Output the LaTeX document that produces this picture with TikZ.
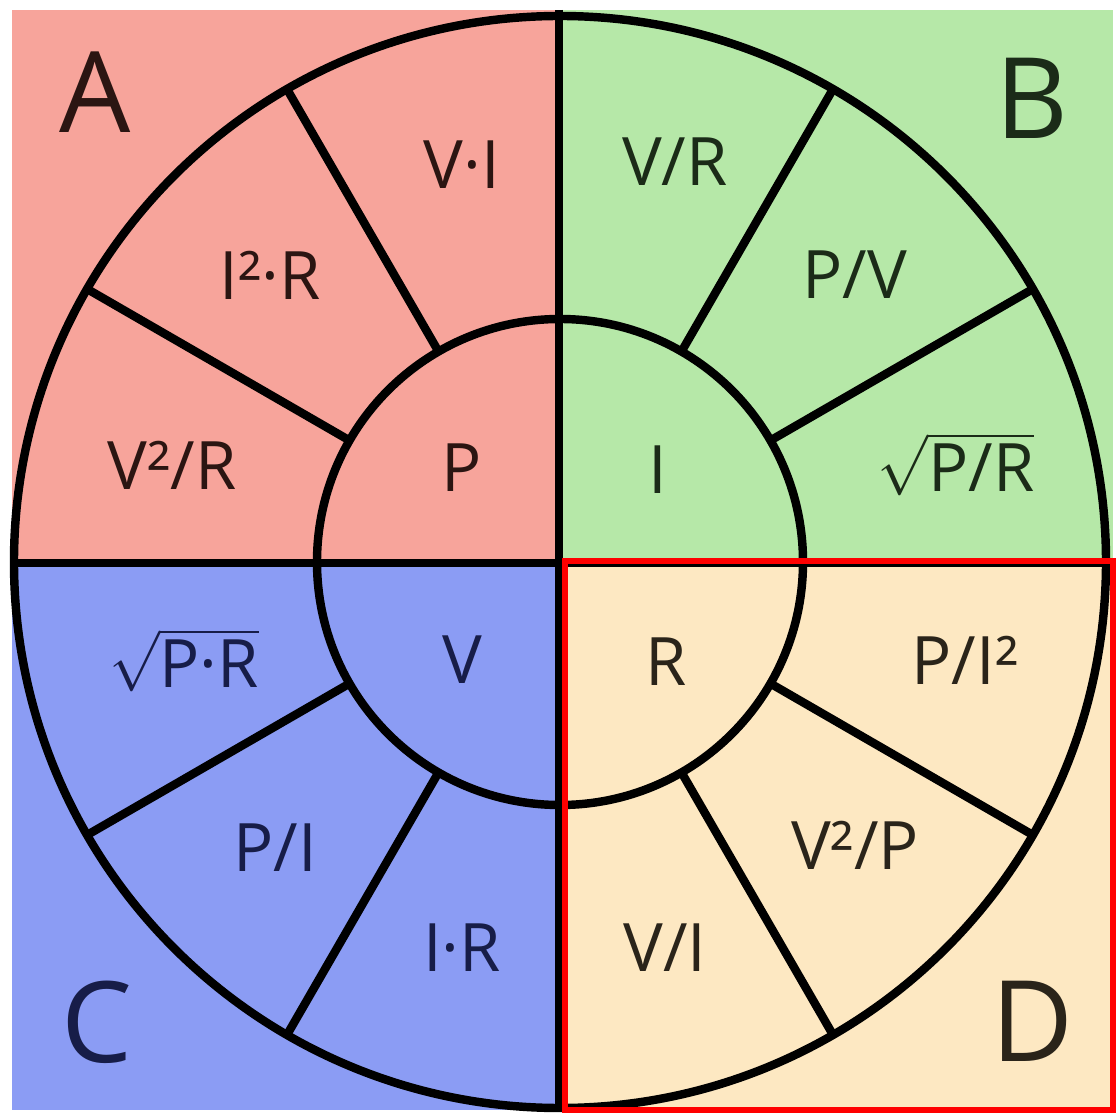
\documentclass[tikz,border=0pt]{standalone}
\usepackage{fontspec}
\setmainfont{Open Sans}
\definecolor{qA}{HTML}{F7A49B}
\definecolor{qB}{HTML}{B6E8A8}
\definecolor{qC}{HTML}{8B9CF4}
\definecolor{qD}{HTML}{FDE8C2}
\definecolor{tA}{HTML}{2B1512}
\definecolor{tB}{HTML}{1B2B18}
\definecolor{tC}{HTML}{171D48}
\definecolor{tD}{HTML}{2A241A}
\definecolor{hiRed}{HTML}{FF0000}

\begin{document}
\begin{tikzpicture}[x=0.01cm,y=0.01cm]
\tikzset{rim/.style={black,line width=2.4pt},
  lbl/.style={inner sep=0pt,font=\fontsize{19}{20}\selectfont},
  corner/.style={inner sep=0pt,font=\fontsize{32}{34}\selectfont}}
\def\rin{243}\def\rout{546}
\useasboundingbox[fill=white](-560,-551)rectangle(556,562);
% quadrants
\fill[qA](-548,0)rectangle(0,552);\fill[qB](0,0)rectangle(553,552);
\fill[qC](-548,-548)rectangle(0,0);\fill[qD](0,-548)rectangle(553,0);
% rings, dividers and spokes
\draw[rim](-1,552)--(-1,-548);\draw[rim](-548,-1)--(553,-1);
\draw[rim](0,0)circle[radius=\rout];\draw[rim](0,0)circle[radius=\rin];
\draw[rim](30:\rin)--(30:\rout);\draw[rim](60:\rin)--(60:\rout);
\draw[rim](120:\rin)--(120:\rout);\draw[rim](150:\rin)--(150:\rout);
\draw[rim](210:\rin)--(210:\rout);\draw[rim](240:\rin)--(240:\rout);
\draw[rim](300:\rin)--(300:\rout);\draw[rim](330:\rin)--(330:\rout);
% highlight of D
\draw[hiRed,line width=1.7pt](5,1)rectangle(553,-548);
% A: power
\node[corner,tA](labA)at(-465,470){A};
\node[lbl,tA](pVI)at(-98,397){V·I};
\node[lbl,tA](pIR)at(-290,287){I²·R};
\node[lbl,tA](pVR)at(-388,97){V²/R};
\node[lbl,tA](P)at(-98,94){P};
% B: current
\node[corner,tB](labB)at(472,464){B};
\node[lbl,tB](iVR)at(115,400){V/R};
\node[lbl,tB](iPV)at(295,287){P/V};
\node[lbl,tB](iPR)at(396,98){$\sqrt{\mbox{P/R}}$};
\node[lbl,tB](I)at(98,92){I};
% C: voltage
\node[corner,tC](labC)at(-463,-460){C};
\node[lbl,tC](vPR)at(-376,-98){$\sqrt{\mbox{P·R}}$};
\node[lbl,tC](vPI)at(-285,-286){P/I};
\node[lbl,tC](vIR)at(-98,-386){I·R};
\node[lbl,tC](V)at(-98,-98){V};
% D: resistance
\node[corner,tD](labD)at(473,-459){D};
\node[lbl,tD](rPI)at(405,-98){P/I²};
\node[lbl,tD](rVP)at(295,-283){V²/P};
\node[lbl,tD](rVI)at(105,-386){V/I};
\node[lbl,tD](R)at(106,-100){R};
\end{tikzpicture}
\end{document}
